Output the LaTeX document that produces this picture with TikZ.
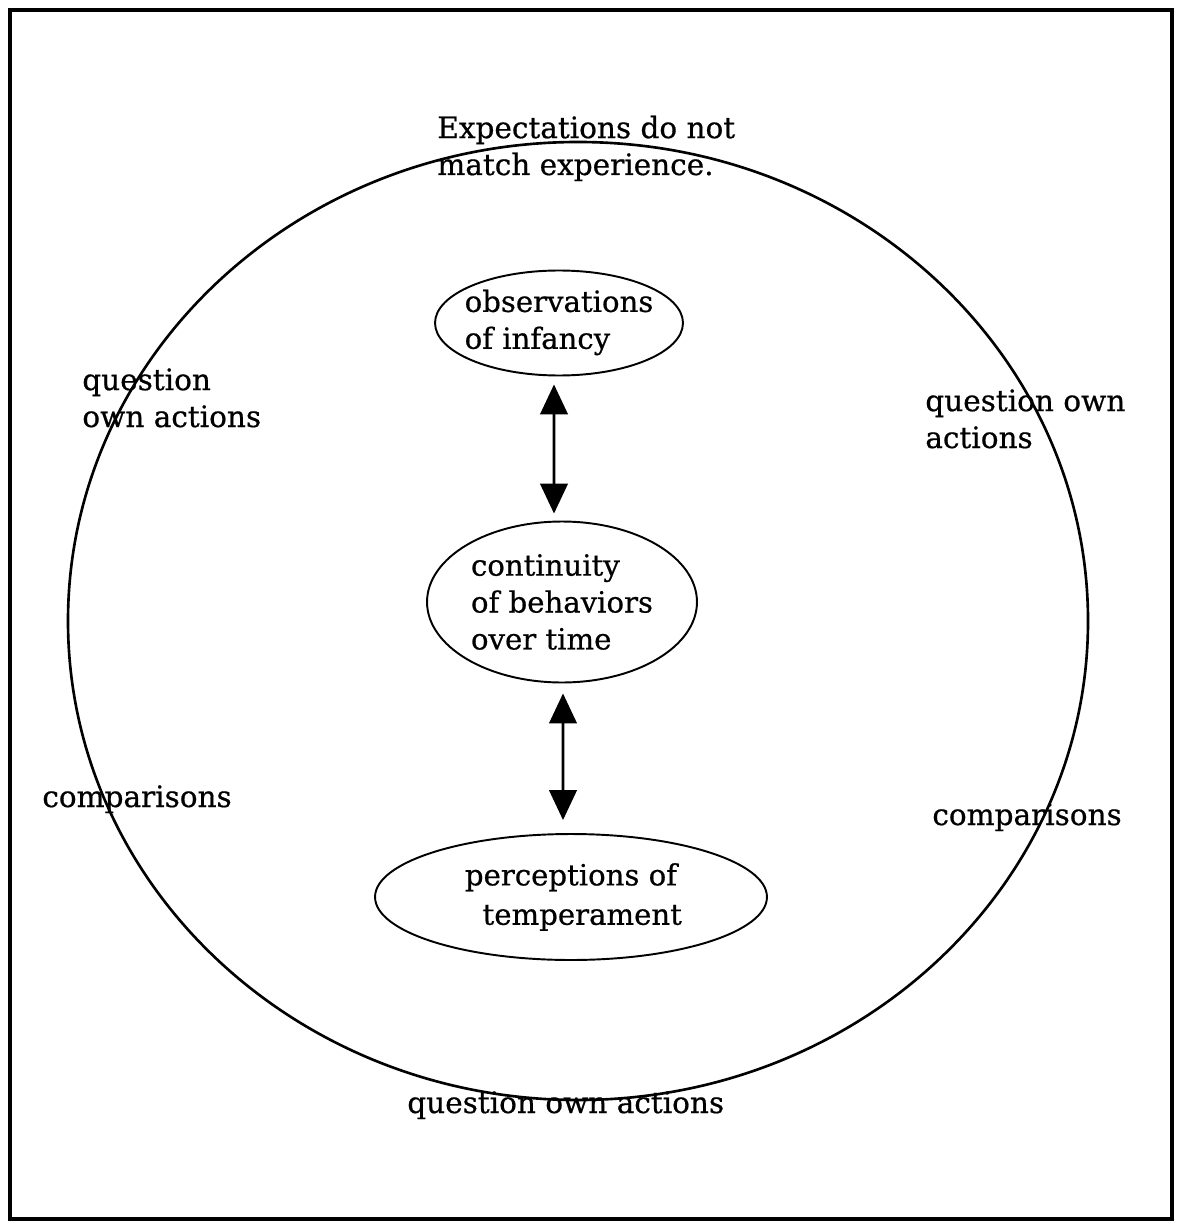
\documentclass[tikz,border=0pt]{standalone}
\usepackage{fontspec}
\setmainfont{DejaVu Serif}[FakeBold=0.6]
\usetikzlibrary{arrows.meta,shapes.geometric}
\begin{document}
\begin{tikzpicture}[x=0.02cm,y=-0.02cm,
  txt/.style={font=\fontsize{16.8}{21}\selectfont, inner sep=0pt, align=left},
  % the ellipse size is fixed by the minimum sizes alone
  oval/.style={draw, ellipse, line width=1.1pt, inner sep=-1cm,
    font=\fontsize{16.6}{21}\selectfont},
  link/.style={line width=1.6pt, {Triangle[length=0.6cm,width=0.55cm]}-{Triangle[length=0.6cm,width=0.55cm]}}
]
\useasboundingbox (0,0) rectangle (1177,1226);
% frame
\draw[line width=2pt] (10,10) rectangle (1172,1219);
% outer cycle
\draw[line width=1.5pt] (578,621) ellipse [x radius=510, y radius=479];

% central chain
\node[oval, minimum width=4.96cm, minimum height=2.1cm, align=left] (obs) at (559,323)
  {\raisebox{0.15cm}{observations}\\\raisebox{0.15cm}{of infancy}};
\node[oval, minimum width=5.4cm, minimum height=3.22cm, align=left] (cont) at (562,602)
  {continuity\\of behaviors\\over time};
\node[oval, minimum width=7.84cm, minimum height=2.52cm, align=center] (temp) at (571,897)
  {perceptions of\\[0.05cm]\hspace*{0.45cm}temperament};

\draw[link, shorten <=0.16cm, shorten >=0.14cm]
  ([xshift=-0.1cm]obs.south) -- ([xshift=-0.16cm]cont.north);
\draw[link, shorten <=0.2cm, shorten >=0.26cm]
  ([xshift=0.02cm]cont.south) -- ([xshift=-0.16cm]temp.north);

% labels around the cycle (base = baseline of the last line)
\node[txt, anchor=base west] (top) at (437,175) {Expectations do not\\match experience.};
\node[txt, anchor=base west] (ql) at (82,427) {question\\own actions};
\node[txt, anchor=base west] (qr) at (925,448) {question own\\actions};
\node[txt, anchor=base west] (cl) at (42,807) {comparisons};
\node[txt, anchor=base west] (cr) at (932,825) {comparisons};
\node[txt, anchor=base west] (qb) at (407,1113) {question own actions};
\end{tikzpicture}
\end{document}
